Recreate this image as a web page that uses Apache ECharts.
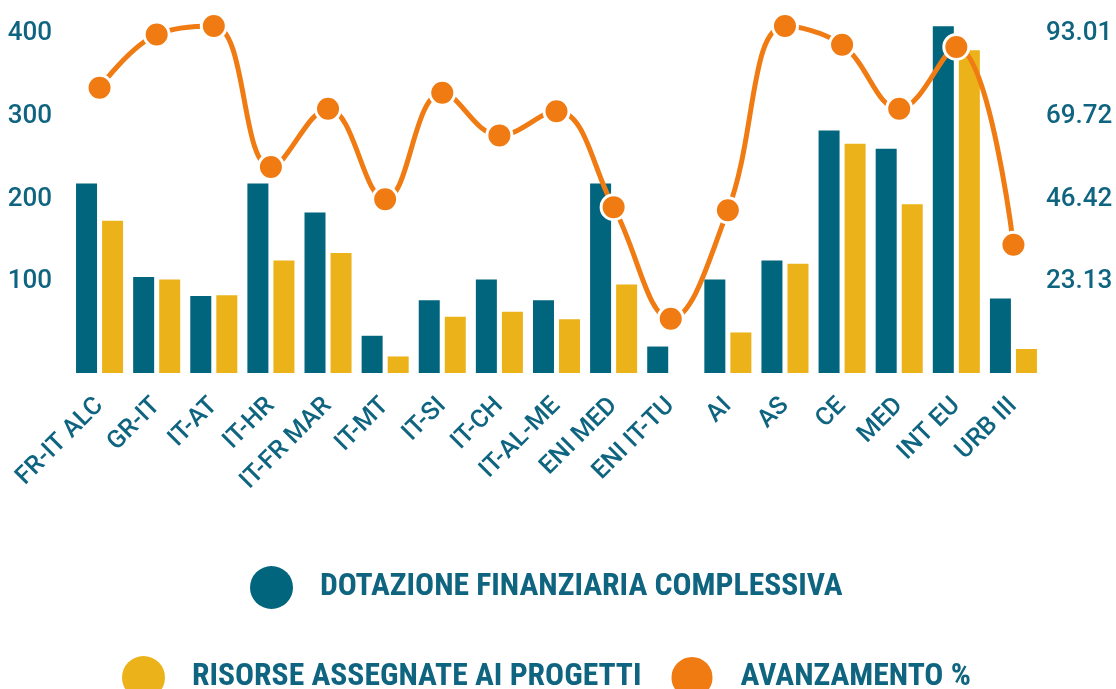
<!DOCTYPE html>
<html>
<head>
<meta charset="utf-8">
<script src="https://cdn.jsdelivr.net/npm/echarts@6/dist/echarts.min.js"></script>
<style>
  html, body { margin: 0; padding: 0; background: #fff; }
  #chart { width: 1116px; height: 689px; }
</style>
</head>
<body>
<div id="chart"></div>
<script>
// programmi
const categories = ['FR-IT ALC', 'GR-IT', 'IT-AT', 'IT-HR', 'IT-FR MAR', 'IT-MT', 'IT-SI', 'IT-CH', 'IT-AL-ME', 'ENI MED', 'ENI IT-TU', 'AI', 'AS', 'CE', 'MED', 'INT EU', 'URB III'];
// dotazione finanziaria complessiva
const dotazione = [229, 116, 93, 229, 194, 45, 88, 113, 88, 229, 32, 113, 136, 293, 271, 419, 90];
// risorse assegnate ai progetti
const risorse = [184, 113, 94, 136, 145, 20, 68, 74, 65, 107, 0, 49, 132, 277, 204, 390, 29];
// avanzamento %
const avanzamento = [80.3, 95.3, 97.7, 58.0, 74.4, 48.9, 78.9, 66.9, 73.7, 46.7, 15.3, 45.8, 97.7, 92.4, 74.4, 91.8, 36.1];
// etichette asse destro
const rightTicks = ['23.13', '46.42', '69.72', '93.01'];

const teal = '#0f6480';
const rightStep = 23.2933;

const legendText = {
  color: teal, fontSize: 31.6, fontWeight: 'bold',
  fontFamily: 'Roboto Condensed', padding: [0, 0, 0, 22]
};

const chart = echarts.init(document.getElementById('chart'));
chart.setOption({
  animation: false,
  textStyle: { fontFamily: 'Roboto' },
  grid: { left: 71, right: 74, top: 9, bottom: 316 },
  legend: [
    {
      data: ['DOTAZIONE FINANZIARIA COMPLESSIVA'],
      left: 250, top: 566, padding: 0,
      icon: 'circle', itemWidth: 43, itemHeight: 43,
      selectedMode: false,
      textStyle: legendText
    },
    {
      data: ['RISORSE ASSEGNATE AI PROGETTI', 'AVANZAMENTO %'],
      left: 122, top: 655, padding: 0, itemGap: 28,
      icon: 'circle', itemWidth: 43, itemHeight: 43,
      selectedMode: false,
      textStyle: legendText
    }
  ],
  xAxis: {
    type: 'category',
    data: categories,
    axisLine: { show: false },
    axisTick: { show: false },
    axisLabel: {
      rotate: 45, margin: 29, color: teal, fontSize: 25, fontWeight: 500,
      interval: 0
    }
  },
  yAxis: [
    {
      type: 'value', min: 0, max: 440, interval: 100,
      splitLine: { show: false },
      axisLabel: {
        margin: 19, color: teal, fontSize: 26, fontWeight: 500,
        verticalAlign: 'bottom', lineHeight: 17,
        formatter: v => (v > 0 && v % 100 === 0 ? String(v) : '')
      }
    },
    {
      type: 'value', min: 0, max: 440 / 100 * rightStep, interval: rightStep,
      splitLine: { show: false },
      axisLabel: {
        margin: 4, color: teal, fontSize: 26, fontWeight: 500,
        verticalAlign: 'bottom', lineHeight: 17,
        formatter: v => {
          const i = Math.round(v / rightStep);
          return i >= 1 && Math.abs(v - i * rightStep) < 0.01 ? (rightTicks[i - 1] || '') : '';
        }
      }
    }
  ],
  series: [
    {
      name: 'DOTAZIONE FINANZIARIA COMPLESSIVA',
      type: 'bar', data: dotazione,
      barWidth: 21, barGap: '24%',
      itemStyle: { color: '#00657d' }
    },
    {
      name: 'RISORSE ASSEGNATE AI PROGETTI',
      type: 'bar', data: risorse,
      barWidth: 21,
      itemStyle: { color: '#ecb21a' }
    },
    {
      name: 'AVANZAMENTO %',
      type: 'line', yAxisIndex: 1, data: avanzamento,
      smooth: 0.4,
      symbol: 'circle', symbolSize: 25,
      lineStyle: { color: '#f07b12', width: 5 },
      itemStyle: { color: '#f07b12', borderColor: '#fff', borderWidth: 3 }
    }
  ]
});
</script>
</body>
</html>
